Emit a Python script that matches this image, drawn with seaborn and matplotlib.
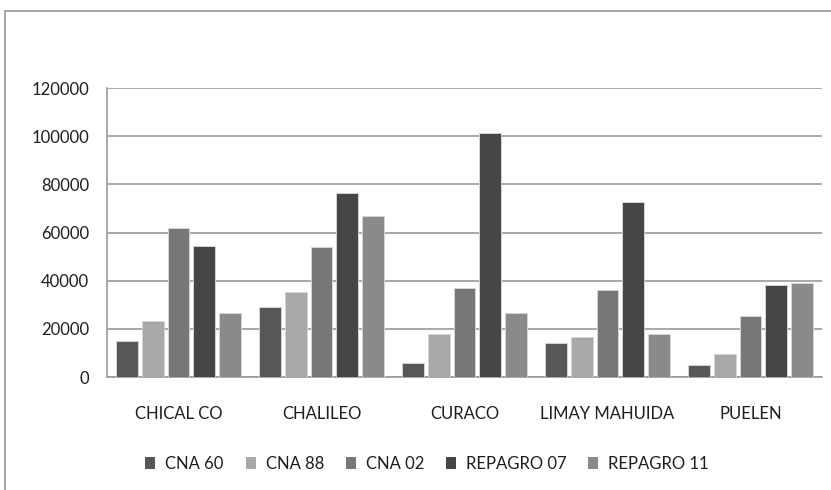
import matplotlib
matplotlib.use("Agg")
import matplotlib.pyplot as plt
import matplotlib.patches as mpatches
import seaborn as sns
import pandas as pd

# Departamentos y series censales
departamentos = ["CHICAL CO", "CHALILEO", "CURACO", "LIMAY MAHUIDA", "PUELEN"]
series = ["CNA 60", "CNA 88", "CNA 02", "REPAGRO 07", "REPAGRO 11"]

cna_60 = [15000, 29200, 5800, 14100, 5100]
cna_88 = [23400, 35100, 18000, 16800, 9700]
cna_02 = [61700, 54000, 37000, 36300, 25400]
repagro_07 = [54600, 76600, 101400, 72700, 38200]
repagro_11 = [26600, 66900, 26600, 18000, 38900]

y_ticks = [0, 20000, 40000, 60000, 80000, 100000, 120000]

colores = ["#575757", "#a8a8a8", "#777777", "#464646", "#8a8a8a"]

valores = [cna_60, cna_88, cna_02, repagro_07, repagro_11]
df = pd.DataFrame(
    [(d, s, v) for s, vals in zip(series, valores) for d, v in zip(departamentos, vals)],
    columns=["departamento", "serie", "valor"],
)

sns.set_theme(style="white")
plt.rcParams["font.family"] = ["Lato", "DejaVu Sans"]

W, H = 831, 490
fig = plt.figure(figsize=(W / 100, H / 100), dpi=100)
ax = fig.add_axes([107 / W, 1 - 377 / H, (822 - 107) / W, (377 - 88) / H])

sns.barplot(
    data=df, x="departamento", y="valor", hue="serie",
    order=departamentos, hue_order=series, palette=colores,
    width=0.895, gap=0.15, edgecolor="#d4d4d4", linewidth=0.7,
    saturation=1, errorbar=None, ax=ax, zorder=3,
)

ax.set_ylim(0, 120000)
ax.set_xlim(-0.5, len(departamentos) - 0.5)
ax.set_yticks(y_ticks)
ax.set_yticklabels([str(t) for t in y_ticks])
ax.yaxis.grid(True, color="#999999", linewidth=1.2, zorder=0)
ax.set_axisbelow(True)
ax.set_xlabel("")
ax.set_ylabel("")

for side in ["top", "right"]:
    ax.spines[side].set_visible(False)
ax.spines["left"].set_color("#999999")
ax.spines["left"].set_linewidth(1.2)
ax.spines["bottom"].set_color("#999999")
ax.spines["bottom"].set_linewidth(1.2)

ax.tick_params(axis="y", length=0, pad=13, labelsize=12, labelcolor="#1e1e1e")
ax.tick_params(axis="x", length=0, pad=21, labelsize=12, labelcolor="#1e1e1e")

handles = [mpatches.Patch(facecolor=c, edgecolor="none") for c in colores]
ax.legend_.remove()
fig.legend(
    handles, series, loc="center", bbox_to_anchor=(427 / W, 1 - 464 / H),
    ncol=5, frameon=False, fontsize=12, handlelength=0.6, handleheight=0.7,
    handletextpad=0.6, columnspacing=1.3, labelcolor="#1e1e1e",
)

# marco exterior del gráfico
fig.patches.append(
    mpatches.Rectangle((5 / W, -0.05), 1.1, 1 - 11 / H + 0.05,
                       transform=fig.transFigure, fill=False,
                       edgecolor="#8c8c8c", linewidth=1.1)
)

fig.savefig("out.png", dpi=100)
